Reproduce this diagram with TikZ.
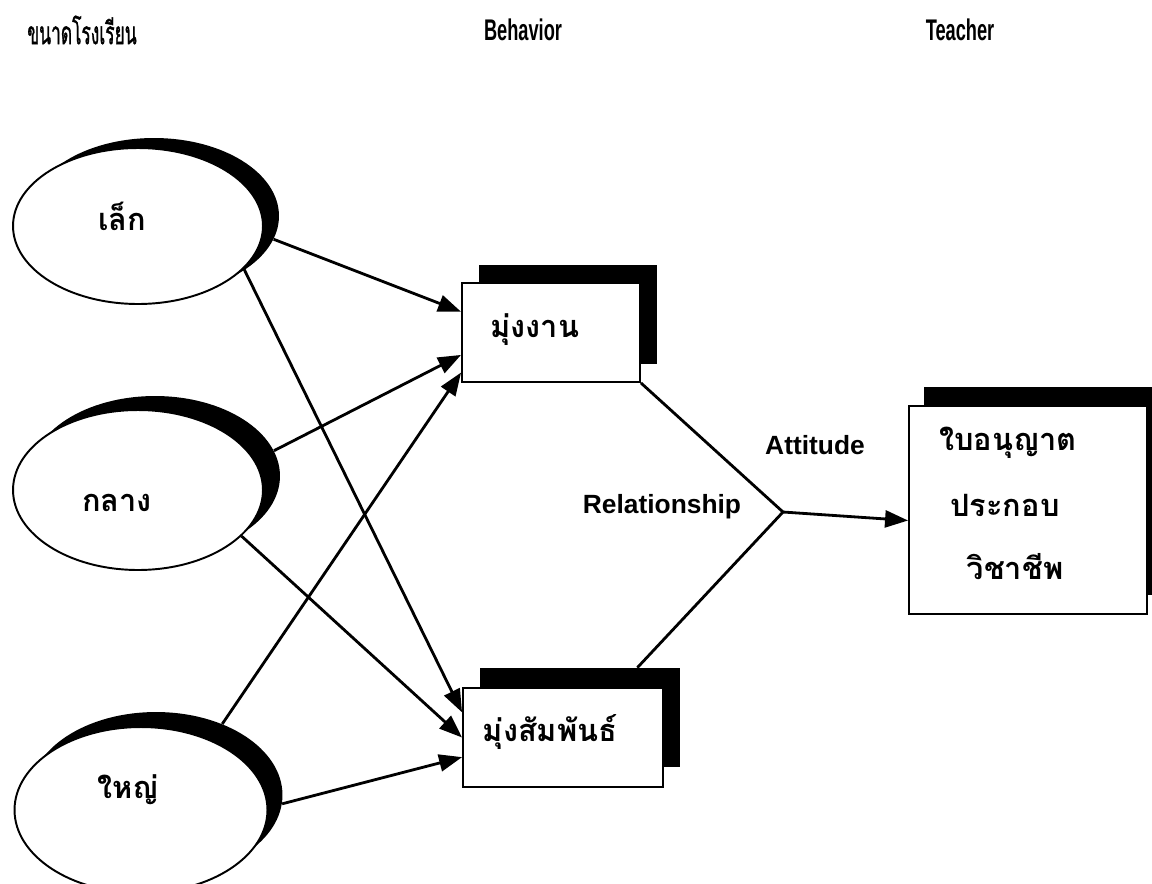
\documentclass[tikz,border=0pt]{standalone}
\usepackage{fontspec}
\setmainfont{Liberation Sans}
\newfontfamily\thai[Script=Thai]{Loma}
\newfontfamily\thaihd[Script=Thai,FakeBold=1.5]{Loma}
\usetikzlibrary{shapes.geometric,arrows.meta,calc}
\begin{document}
\begin{tikzpicture}[x=0.02cm,y=-0.02cm,
  oval/.style={ellipse,draw,line width=1.1pt,fill=white,inner sep=0pt},
  ovalshadow/.style={ellipse,fill=black,inner sep=0pt},
  box/.style={rectangle,draw,line width=1.1pt,fill=white,inner sep=0pt},
  boxshadow/.style={rectangle,fill=black,inner sep=0pt},
  thaitext/.style={font=\thai\bfseries\fontsize{17.5}{21}\selectfont,inner sep=0pt},
  thaihead/.style={font=\thaihd\fontsize{18}{21}\selectfont,inner sep=0pt},
  head/.style={font=\bfseries\fontsize{17}{20}\selectfont,inner sep=0pt},
  eng/.style={font=\bfseries\fontsize{15}{18}\selectfont,inner sep=0pt},
  conn/.style={line width=1.6pt},
  arr/.style={conn,-{Triangle[length=0.46cm,width=0.34cm]}},
]
\useasboundingbox (0,0) rectangle (1152,883);
\fill[white] (0,0) rectangle (1152,883);

% headers
\node[thaihead] (hsize) at (82,30) {\scalebox{0.55}[1]{ขนาดโรงเรียน}};
\node[head] (hbeh) at (523,30) {\scalebox{0.61}[1]{Behavior}};
\node[head] (htea) at (960,30) {\scalebox{0.61}[1]{Teacher}};

% ellipses
\node[ovalshadow,minimum width=5.0cm,minimum height=3.12cm] (lekS) at (154,216) {};
\node[oval,minimum width=5.0cm,minimum height=3.12cm] (lek) at (138,226) {};
\node[thaitext] (lekT) at (122,216) {เล็ก};

\node[ovalshadow,minimum width=5.0cm,minimum height=3.2cm] (kalangS) at (155,476) {};
\node[oval,minimum width=5.0cm,minimum height=3.2cm] (kalang) at (138,490) {};
\node[thaitext] (kalangT) at (117,503) {กลาง};

\node[ovalshadow,minimum width=5.06cm,minimum height=3.32cm] (yaiS) at (156,795) {};
\node[oval,minimum width=5.06cm,minimum height=3.32cm] (yai) at (141,810) {};
\node[thaitext] (yaiT) at (128,790) {ใหญ่};

% behaviour boxes
\node[boxshadow,minimum width=3.56cm,minimum height=1.98cm] (nganS) at (568,314.5) {};
\node[box,minimum width=3.56cm,minimum height=1.98cm] (ngan) at (551,332.5) {};
\node[thaitext] (nganT) at (535,330) {มุ่งงาน};

\node[boxshadow,minimum width=4.0cm,minimum height=1.98cm] (samphanS) at (580,717.5) {};
\node[box,minimum width=4.0cm,minimum height=1.98cm] (samphan) at (563,737.5) {};
\node[thaitext] (samphanT) at (550,732) {มุ่งสัมพันธ์};

% teacher box
\node[boxshadow,minimum width=4.76cm,minimum height=4.16cm] (teacherS) at (1043,491) {};
\node[box,minimum width=4.76cm,minimum height=4.16cm] (teacher) at (1028,510) {};
\node[thaitext] (t1) at (1008,443) {ใบอนุญาต};
\node[thaitext] (t2) at (1005,505) {ประกอบ};
\node[thaitext] (t3) at (1015,567) {วิชาชีพ};

% labels
\node[eng] (rel) at (662,507) {Relationship};
\node[eng] (att) at (815,445) {Attitude};

\coordinate (v) at (783,512);

% connectors
\draw[arr] (lekS.-11) -- (ngan.167);
\draw[arr] (lek.-22) -- (samphan.166);
\draw[arr] (kalangS.12) -- (ngan.194);
\draw[arr] (kalang.-24) -- (samphan.180);
\draw[arr] (yaiS.47) -- (ngan.204);
\draw[arr] (yaiS.-4) -- (samphan.191);

\draw[conn] (ngan.south east) -- (v);
\draw[conn] (v) -- (samphanS.41.5);
\draw[arr] (v) -- (teacher.185);
\end{tikzpicture}
\end{document}
